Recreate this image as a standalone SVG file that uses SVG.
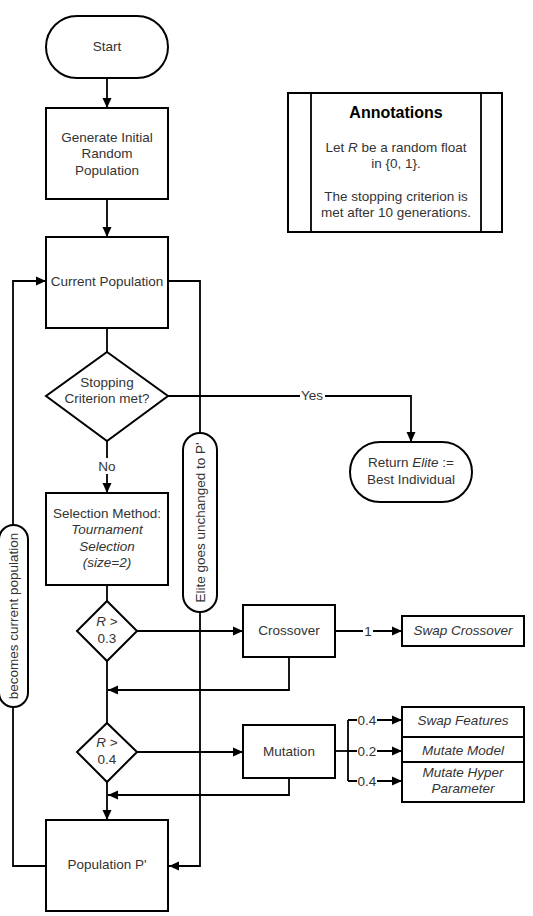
<svg xmlns="http://www.w3.org/2000/svg" width="533" height="916" viewBox="0 0 533 916">
<defs>
<style>
.box{fill:#fff;stroke:#000;stroke-width:2}
.ln{fill:none;stroke:#000;stroke-width:1.8}
text{font-family:"Liberation Sans",Arial,sans-serif;font-size:13.5px;fill:#333;text-anchor:middle}
.it{font-style:italic}
.lbl{fill:#fff;stroke:none}
</style>
<marker id="ah" viewBox="0 0 10 10" refX="10" refY="5" markerWidth="10" markerHeight="10" markerUnits="userSpaceOnUse" orient="auto">
<path d="M0,0.5 L10,5 L0,9.5 z" fill="#000"/>
</marker>
</defs>
<rect width="533" height="916" fill="#fff"/>

<g id="connectors">
<line class="ln" x1="107" y1="78" x2="107" y2="108" marker-end="url(#ah)"/>
<line class="ln" x1="107" y1="199" x2="107" y2="237" marker-end="url(#ah)"/>
<line class="ln" x1="107" y1="328" x2="107" y2="352"/>
<line class="ln" x1="107" y1="441" x2="107" y2="493" marker-end="url(#ah)"/>
<polyline class="ln" points="168,396 411,396 411,442" marker-end="url(#ah)"/>
<polyline class="ln" points="168,281 200,281 200,433"/>
<polyline class="ln" points="200,612 200,866 169,866" marker-end="url(#ah)"/>
<polyline class="ln" points="46,866 13,866 13,707"/>
<polyline class="ln" points="13,525 13,281 46,281" marker-end="url(#ah)"/>
<line class="ln" x1="107" y1="585" x2="107" y2="601"/>
<line class="ln" x1="137" y1="631" x2="243" y2="631" marker-end="url(#ah)"/>
<polyline class="ln" points="289,657 289,690 108,690" marker-end="url(#ah)"/>
<line class="ln" x1="107" y1="661" x2="107" y2="723"/>
<line class="ln" x1="137" y1="752" x2="243" y2="752" marker-end="url(#ah)"/>
<polyline class="ln" points="289,778 289,795 108,795" marker-end="url(#ah)"/>
<line class="ln" x1="107" y1="782" x2="107" y2="820" marker-end="url(#ah)"/>
<line class="ln" x1="335" y1="631" x2="402" y2="631" marker-end="url(#ah)"/>
<line class="ln" x1="335" y1="751" x2="348" y2="751"/>
<line class="ln" x1="348" y1="720" x2="348" y2="781"/>
<line class="ln" x1="348" y1="720" x2="402" y2="720" marker-end="url(#ah)"/>
<line class="ln" x1="348" y1="751" x2="402" y2="751" marker-end="url(#ah)"/>
<line class="ln" x1="348" y1="781" x2="402" y2="781" marker-end="url(#ah)"/>
<rect class="lbl" x="300" y="389" width="25" height="14"/>
<text x="312" y="400">Yes</text>
<rect class="lbl" x="96" y="458" width="22" height="16"/>
<text x="107" y="471">No</text>
<rect class="lbl" x="363" y="624" width="10" height="14"/>
<text x="368" y="636">1</text>
<rect class="lbl" x="357" y="713" width="20" height="14"/>
<text x="367" y="725">0.4</text>
<rect class="lbl" x="357" y="744" width="20" height="14"/>
<text x="367" y="756">0.2</text>
<rect class="lbl" x="357" y="774" width="20" height="14"/>
<text x="367" y="786">0.4</text>
</g>

<g id="start">
<rect class="box" x="46" y="16" width="122" height="62" rx="31" ry="31"/>
<text x="107" y="51">Start</text>
</g>

<g id="generate">
<rect class="box" x="46" y="108" width="122" height="91"/>
<text x="107" y="142">Generate Initial</text>
<text x="107" y="158">Random</text>
<text x="107" y="175">Population</text>
</g>

<g id="annotations">
<rect class="box" x="288" y="93" width="214" height="139"/>
<line class="ln" x1="311" y1="93" x2="311" y2="232"/>
<line class="ln" x1="481" y1="93" x2="481" y2="232"/>
<text x="396" y="118" style="font-weight:bold;font-size:16px;fill:#000">Annotations</text>
<text x="396" y="152">Let <tspan class="it">R</tspan> be a random float</text>
<text x="396" y="168">in {0, 1}.</text>
<text x="396" y="201">The stopping criterion is</text>
<text x="396" y="217">met after 10 generations.</text>
</g>

<g id="current">
<rect class="box" x="46" y="237" width="122" height="91"/>
<text x="107" y="286">Current Population</text>
</g>

<g id="stopping">
<polygon class="box" points="107,352 168,396 107,441 46,396"/>
<text x="107" y="387">Stopping</text>
<text x="107" y="403">Criterion met?</text>
</g>

<g id="return">
<rect class="box" x="350" y="442" width="122" height="60" rx="30" ry="30"/>
<text x="411" y="467">Return <tspan class="it">Elite</tspan> :=</text>
<text x="411" y="484">Best Individual</text>
</g>

<g id="elite">
<rect class="box" x="183" y="433" width="34" height="179" rx="17" ry="17"/>
<text transform="translate(205,522.5) rotate(-90)">Elite goes unchanged to P'</text>
</g>

<g id="becomes">
<rect class="box" x="-1" y="525" width="29" height="182" rx="14.5" ry="14.5"/>
<text transform="translate(18,616) rotate(-90)">becomes current population</text>
</g>

<g id="selection">
<rect class="box" x="46" y="493" width="122" height="92"/>
<text x="107" y="518">Selection Method:</text>
<text x="107" y="534" class="it">Tournament</text>
<text x="107" y="551" class="it">Selection</text>
<text x="107" y="567" class="it">(size=2)</text>
</g>

<g id="r03">
<polygon class="box" points="107,601 137,631 107,661 77,631"/>
<text x="107" y="626"><tspan class="it">R</tspan> &gt;</text>
<text x="107" y="643">0.3</text>
</g>

<g id="crossover">
<rect class="box" x="243" y="605" width="92" height="52"/>
<text x="289" y="635">Crossover</text>
</g>

<g id="swapcrossover">
<rect class="box" x="402" y="616" width="122" height="30"/>
<text x="463" y="635" class="it">Swap Crossover</text>
</g>

<g id="r04">
<polygon class="box" points="107,723 137,752 107,782 77,752"/>
<text x="107" y="747"><tspan class="it">R</tspan> &gt;</text>
<text x="107" y="764">0.4</text>
</g>

<g id="mutation">
<rect class="box" x="243" y="725" width="92" height="53"/>
<text x="289" y="756">Mutation</text>
</g>

<g id="swapfeatures">
<rect class="box" x="402" y="707" width="122" height="30"/>
<text x="463" y="725" class="it">Swap Features</text>
</g>

<g id="mutatemodel">
<rect class="box" x="402" y="737" width="122" height="25"/>
<text x="463" y="755" class="it">Mutate Model</text>
</g>

<g id="mutatehyper">
<rect class="box" x="402" y="762" width="122" height="40"/>
<text x="463" y="777" class="it">Mutate Hyper</text>
<text x="463" y="793" class="it">Parameter</text>
</g>

<g id="populationP">
<rect class="box" x="46" y="820" width="122" height="91"/>
<text x="107" y="869">Population P'</text>
</g>
</svg>
